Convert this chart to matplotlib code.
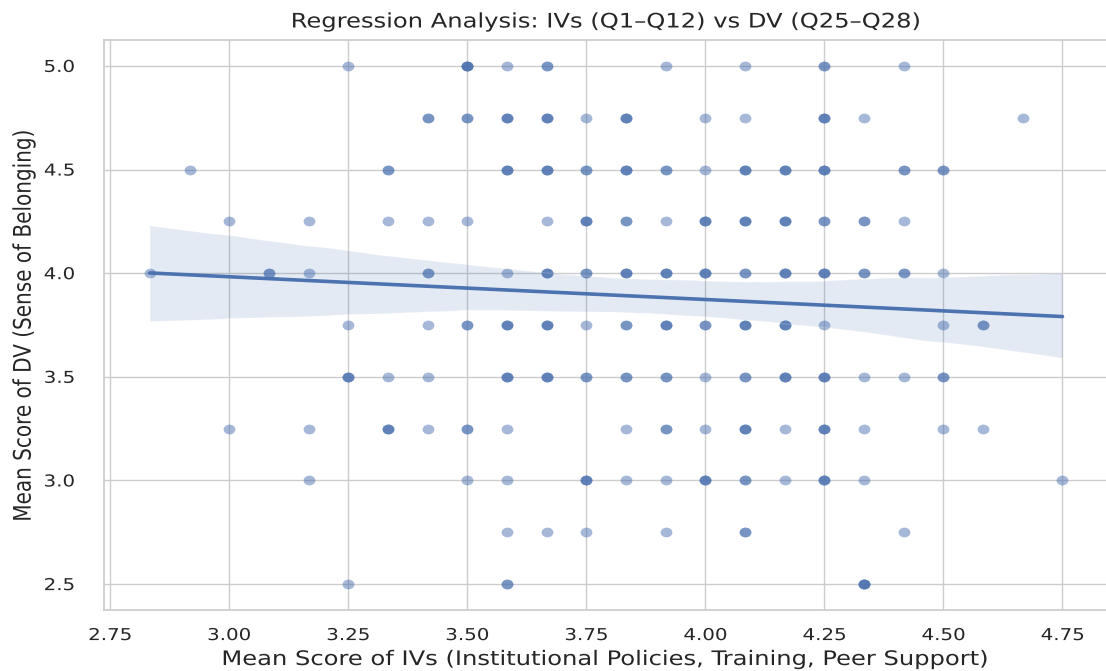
import numpy as np
import matplotlib
matplotlib.use("Agg")
import matplotlib.pyplot as plt
import seaborn as sns
from matplotlib.patheffects import AbstractPathEffect
from matplotlib.transforms import Affine2D
from matplotlib.path import Path
from matplotlib.markers import MarkerStyle

# ---- data: each DV level (y) with the IV means (x) observed and how many respondents share that point
y_levels = [5.0, 4.75, 4.5, 4.25, 4.0, 3.75, 3.5, 3.25, 3.0, 2.75, 2.5]

x_500 = [3.25, 3.5, 3.583, 3.667, 3.917, 4.083, 4.25, 4.417]
n_500 = [1, 4, 1, 2, 1, 1, 2, 1]

x_475 = [3.417, 3.5, 3.583, 3.667, 3.75, 3.833, 4.0, 4.083, 4.25, 4.333, 4.667]
n_475 = [2, 2, 3, 3, 1, 3, 1, 1, 3, 1, 1]

x_450 = [2.917, 3.333, 3.583, 3.667, 3.75, 3.833, 3.917, 4.0, 4.083, 4.167, 4.25, 4.417, 4.5]
n_450 = [1, 2, 3, 3, 2, 3, 2, 1, 3, 3, 3, 2, 2]

x_425 = [3.0, 3.167, 3.333, 3.417, 3.5, 3.667, 3.75, 3.833, 3.917, 4.0, 4.083, 4.167, 4.25, 4.333, 4.417]
n_425 = [1, 1, 1, 1, 1, 1, 3, 2, 1, 3, 3, 3, 2, 2, 1]

x_400 = [2.833, 3.083, 3.167, 3.417, 3.583, 3.667, 3.75, 3.833, 3.917, 4.0, 4.083, 4.167, 4.25, 4.333, 4.417, 4.5]
n_400 = [1, 2, 1, 2, 1, 3, 2, 3, 3, 3, 2, 3, 3, 2, 2, 1]

x_375 = [3.25, 3.417, 3.5, 3.583, 3.667, 3.75, 3.833, 3.917, 4.0, 4.083, 4.167, 4.25, 4.5, 4.583]
n_375 = [1, 1, 2, 3, 3, 1, 2, 3, 2, 3, 3, 1, 1, 2]

x_350 = [3.25, 3.333, 3.417, 3.583, 3.667, 3.75, 3.833, 3.917, 4.0, 4.083, 4.167, 4.25, 4.333, 4.417, 4.5]
n_350 = [3, 1, 1, 3, 3, 2, 2, 2, 1, 2, 3, 3, 1, 1, 2]

x_325 = [3.0, 3.167, 3.333, 3.417, 3.5, 3.583, 3.833, 3.917, 4.0, 4.083, 4.167, 4.25, 4.333, 4.5, 4.583]
n_325 = [1, 1, 3, 1, 2, 1, 1, 2, 1, 3, 1, 3, 1, 1, 1]

x_300 = [3.167, 3.5, 3.583, 3.75, 3.833, 3.917, 4.0, 4.083, 4.167, 4.25, 4.333, 4.75]
n_300 = [1, 1, 1, 3, 1, 1, 3, 2, 1, 3, 1, 1]

x_275 = [3.583, 3.667, 3.75, 3.917, 4.083, 4.417]
n_275 = [1, 1, 1, 1, 2, 1]

x_250 = [3.25, 3.583, 4.333]
n_250 = [1, 2, 4]

row_x = [x_500, x_475, x_450, x_425, x_400, x_375, x_350, x_325, x_300, x_275, x_250]
row_n = [n_500, n_475, n_450, n_425, n_400, n_375, n_350, n_325, n_300, n_275, n_250]

x_ticks = [2.75, 3.0, 3.25, 3.5, 3.75, 4.0, 4.25, 4.5, 4.75]
y_ticks = [2.5, 3.0, 3.5, 4.0, 4.5, 5.0]

title = "Regression Analysis: IVs (Q1\u2013Q12) vs DV (Q25\u2013Q28)"
xlabel = "Mean Score of IVs (Institutional Policies, Training, Peer Support)"
ylabel = "Mean Score of DV (Sense of Belonging)"

# ---- expand into individual observations
xs, ys = [], []
for yv, xr, nr in zip(y_levels, row_x, row_n):
    for xv, nv in zip(xr, nr):
        xs += [xv] * nv
        ys += [yv] * nv
xs = np.array(xs)
ys = np.array(ys)

STRETCH = 1.21


class HStretch(AbstractPathEffect):
    """Draw text glyphs widened horizontally (the reference is wider than tall)."""

    def __init__(self, sx=STRETCH, anchor="center"):
        super().__init__()
        self.sx = sx
        self.anchor = anchor

    def draw_path(self, renderer, gc, tpath, affine, rgbFace=None):
        ext = tpath.get_extents(affine)
        cx = ext.x1 if self.anchor == "right" else 0.5 * (ext.x0 + ext.x1)
        t = affine + Affine2D().translate(-cx, 0).scale(self.sx, 1).translate(cx, 0)
        renderer.draw_path(gc, tpath, t, rgbFace)


sns.set_theme(style="whitegrid")
plt.rcParams['font.family'] = ['DejaVu Sans']

fig = plt.figure(figsize=(11.06, 6.71), dpi=100)
ax = fig.add_axes([0.094, 0.0909, 0.908, 0.8495])

ellipse = MarkerStyle(Path.unit_circle().transformed(Affine2D().scale(STRETCH, 1.0)))

sns.regplot(x=xs, y=ys, ax=ax, color="#4C72B0", seed=0, marker=ellipse,
            scatter_kws={"alpha": 0.5, "s": 72, "linewidths": 0},
            line_kws={"lw": 2.6})

ax.set_xticks(x_ticks)
ax.set_yticks(y_ticks)
ax.set_xlim(2.737, 4.846)
ax.set_ylim(2.375, 5.125)
ax.tick_params(axis="x", labelsize=11.8, pad=7)
ax.tick_params(axis="y", labelsize=11.8, pad=15)
t = ax.set_title(title, fontsize=14.4, pad=9)
xl = ax.set_xlabel(xlabel, fontsize=14.4, labelpad=5)
yl = ax.set_ylabel(ylabel, fontsize=14.4, labelpad=11)

for txt in [t, xl, yl] + list(ax.get_xticklabels()):
    txt.set_path_effects([HStretch()])
for txt in ax.get_yticklabels():
    txt.set_path_effects([HStretch(anchor="right")])

fig.savefig("out.png", dpi=100)
